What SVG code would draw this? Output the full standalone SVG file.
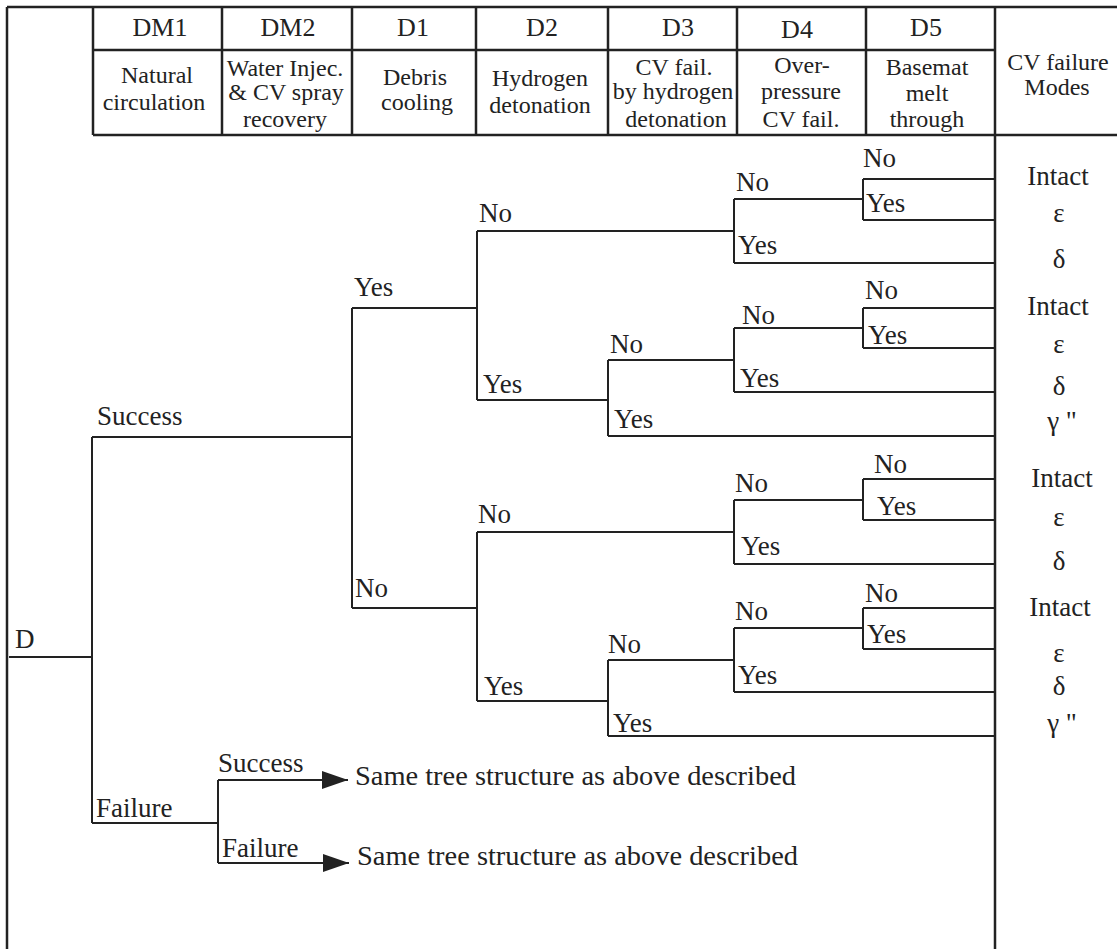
<svg xmlns="http://www.w3.org/2000/svg" width="1117" height="949" viewBox="0 0 1117 949">
<style>
text{font-family:"Liberation Serif","Times New Roman",serif;fill:#222}
.h1{font-size:26px;text-anchor:middle}
.h2{font-size:24px;text-anchor:middle}
.lb{font-size:27px}
.oc{font-size:27px;text-anchor:middle}
.tbl{stroke:#222;stroke-width:2.5;fill:none}
.tr{stroke:#222;stroke-width:2;fill:none}
</style>
<defs>
<marker id="arr" markerUnits="userSpaceOnUse" markerWidth="28" markerHeight="20" refX="26" refY="9" orient="auto">
<path d="M0,0 L26,9 L0,18 z" fill="#222"/>
</marker>
</defs>
<rect width="1117" height="949" fill="#fff"/>
<g id="table">
<path class="tbl" d="M7,7 H1117 M7,7 V949 M93,135 H1117 M93,50 H995 M995,7 V949 M93,7 V135 M222,7 V135 M352,7 V135 M476,7 V135 M608,7 V135 M737,7 V135 M866,7 V135"/>
</g>
<g id="col-DM1"><text class="h1" x="160" y="36">DM1</text><text class="h2" x="157" y="83">Natural</text><text class="h2" x="154" y="110">circulation</text></g>
<g id="col-DM2"><text class="h1" x="288" y="36">DM2</text><text class="h2" x="285" y="76">Water Injec.</text><text class="h2" x="286" y="100">&amp; CV spray</text><text class="h2" x="285" y="127">recovery</text></g>
<g id="col-D1"><text class="h1" x="413" y="36">D1</text><text class="h2" x="415" y="85">Debris</text><text class="h2" x="417" y="110">cooling</text></g>
<g id="col-D2"><text class="h1" x="542" y="36">D2</text><text class="h2" x="540" y="86">Hydrogen</text><text class="h2" x="540" y="113">detonation</text></g>
<g id="col-D3"><text class="h1" x="678" y="36">D3</text><text class="h2" x="674" y="75">CV fail.</text><text class="h2" x="673" y="99">by hydrogen</text><text class="h2" x="676" y="127">detonation</text></g>
<g id="col-D4"><text class="h1" x="797" y="38">D4</text><text class="h2" x="802" y="73">Over-</text><text class="h2" x="801" y="99">pressure</text><text class="h2" x="801" y="127">CV fail.</text></g>
<g id="col-D5"><text class="h1" x="926" y="36">D5</text><text class="h2" x="927" y="75">Basemat</text><text class="h2" x="927" y="101">melt</text><text class="h2" x="927" y="127">through</text></g>
<g id="col-modes"><text class="h2" x="1058" y="70">CV failure</text><text class="h2" x="1057" y="95">Modes</text></g>
<g id="connectors">
<path class="tr" d="M9,657 H92 M92,437 V823 M92,437 H352 M92,823 H218"/>
<path class="tr" d="M352,308 V608 M352,308 H477 M352,608 H477"/>
<path class="tr" d="M477,231 V400 M477,231 H734 M477,400 H608"/>
<path class="tr" d="M608,360 V436 M608,360 H734 M608,436 H995"/>
<path class="tr" d="M734,199 V263 M734,199 H863 M734,263 H995 M863,179 V220 M863,179 H995 M863,220 H995"/>
<path class="tr" d="M734,328 V392 M734,328 H863 M734,392 H995 M863,308 V348 M863,308 H995 M863,348 H995"/>
<path class="tr" d="M477,532 V701 M477,532 H734 M477,701 H608"/>
<path class="tr" d="M608,660 V736 M608,660 H734 M608,736 H995"/>
<path class="tr" d="M734,500 V564 M734,500 H863 M734,564 H995 M863,479 V520 M863,479 H995 M863,520 H995"/>
<path class="tr" d="M734,628 V692 M734,628 H863 M734,692 H995 M863,608 V649 M863,608 H995 M863,649 H995"/>
<path class="tr" d="M218,780 V863"/>
<path class="tr" d="M218,780 H348" marker-end="url(#arr)"/>
<path class="tr" d="M218,863 H349" marker-end="url(#arr)"/>
</g>
<g id="node-D"><text class="lb" x="15" y="648">D</text></g>
<g id="node-DM1"><text class="lb" x="97" y="425">Success</text><text class="lb" x="96" y="817">Failure</text></g>
<g id="node-DM2"><text class="lb" x="218" y="772">Success</text><text class="lb" x="222" y="857">Failure</text>
<text class="lb" x="355" y="785" textLength="441" lengthAdjust="spacingAndGlyphs">Same tree structure as above described</text>
<text class="lb" x="357" y="865" textLength="441" lengthAdjust="spacingAndGlyphs">Same tree structure as above described</text></g>
<g id="node-D1"><text class="lb" x="354" y="296">Yes</text><text class="lb" x="355" y="597">No</text></g>
<g id="node-D2"><text class="lb" x="479" y="222">No</text><text class="lb" x="483" y="393">Yes</text><text class="lb" x="478" y="523">No</text><text class="lb" x="484" y="695">Yes</text></g>
<g id="node-D3"><text class="lb" x="610" y="353">No</text><text class="lb" x="614" y="428">Yes</text><text class="lb" x="608" y="653">No</text><text class="lb" x="613" y="732">Yes</text></g>
<g id="node-D4"><text class="lb" x="736" y="191">No</text><text class="lb" x="738" y="254">Yes</text><text class="lb" x="742" y="324">No</text><text class="lb" x="740" y="387">Yes</text><text class="lb" x="735" y="492">No</text><text class="lb" x="741" y="555">Yes</text><text class="lb" x="735" y="620">No</text><text class="lb" x="738" y="684">Yes</text></g>
<g id="node-D5"><text class="lb" x="863" y="167">No</text><text class="lb" x="866" y="212">Yes</text><text class="lb" x="865" y="299">No</text><text class="lb" x="868" y="344">Yes</text><text class="lb" x="874" y="473">No</text><text class="lb" x="877" y="515">Yes</text><text class="lb" x="865" y="602">No</text><text class="lb" x="867" y="643">Yes</text></g>
<g id="outcomes">
<text class="oc" x="1058" y="185">Intact</text><text class="oc" x="1059" y="222">ε</text><text class="oc" x="1059" y="268">δ</text>
<text class="oc" x="1058" y="315">Intact</text><text class="oc" x="1059" y="353">ε</text><text class="oc" x="1059" y="395">δ</text><text class="oc" x="1062" y="430">γ "</text>
<text class="oc" x="1062" y="487">Intact</text><text class="oc" x="1059" y="526">ε</text><text class="oc" x="1059" y="570">δ</text>
<text class="oc" x="1060" y="616">Intact</text><text class="oc" x="1059" y="662">ε</text><text class="oc" x="1059" y="695">δ</text><text class="oc" x="1062" y="732">γ "</text>
</g>
</svg>
